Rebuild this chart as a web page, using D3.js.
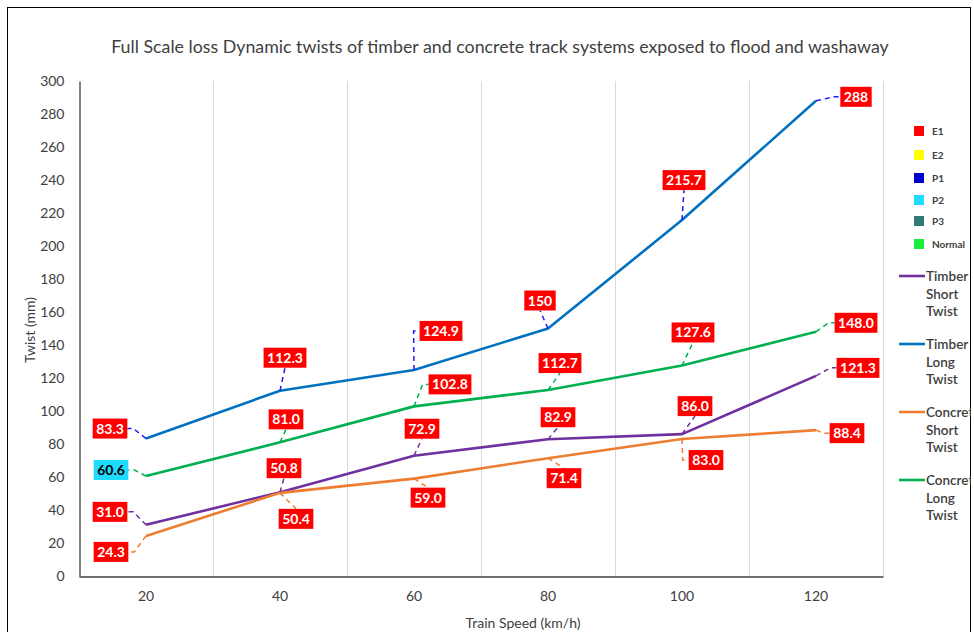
<!DOCTYPE html>
<html>
<head>
<meta charset="utf-8">
<script src="https://cdn.jsdelivr.net/npm/d3@7"></script>
<style>
  body { margin: 0; background: #fff; }
  svg text { font-family: Lato, "Open Sans", sans-serif; }
</style>
</head>
<body>
<script>
// categories (train speed, km/h)
var speeds = ["20", "40", "60", "80", "100", "120"];

// series values (twist, mm)
var timberShort   = [31.0, 50.8, 72.9, 82.9, 86.0, 121.3];
var timberLong    = [83.3, 112.3, 124.9, 150, 215.7, 288];
var concreteShort = [24.3, 50.4, 59.0, 71.4, 83.0, 88.4];
var concreteLong  = [60.6, 81.0, 102.8, 112.7, 127.6, 148.0];

// label text as printed in the picture
var timberShortLabels   = ["31.0", "50.8", "72.9", "82.9", "86.0", "121.3"];
var timberLongLabels    = ["83.3", "112.3", "124.9", "150", "215.7", "288"];
var concreteShortLabels = ["24.3", "50.4", "59.0", "71.4", "83.0", "88.4"];
var concreteLongLabels  = ["60.6", "81.0", "102.8", "112.7", "127.6", "148.0"];

// class of each data label (E1 red, P2 cyan)
var timberShortClass   = ["E1", "E1", "E1", "E1", "E1", "E1"];
var timberLongClass    = ["E1", "E1", "E1", "E1", "E1", "E1"];
var concreteShortClass = ["E1", "E1", "E1", "E1", "E1", "E1"];
var concreteLongClass  = ["P2", "E1", "E1", "E1", "E1", "E1"];

var yTicks = [0, 20, 40, 60, 80, 100, 120, 140, 160, 180, 200, 220, 240, 260, 280, 300];

var classNames = ["E1", "E2", "P1", "P2", "P3", "Normal"];
var classColors = ["#ff0000", "#ffff00", "#0000d0", "#1fdcff", "#2f7b73", "#19ef3b"];

// label offsets from the point, in pixels (layout only)
var offTimberShort   = [[-36, -13], [4, -24], [8, -27], [10, -22], [13, -28], [42, -8]];
var offTimberLong    = [[-36, -10], [5, -33], [27, -39], [-8, -28], [2, -40], [40, -4]];
var offConcreteShort = [[-35, 16], [16, 26], [14, 19], [16, 20], [24, 21], [31, 3]];
var offConcreteLong  = [[-35, -6], [6, -23], [36, -22], [12, -27], [11, -33], [40, -9]];

var series = [
  { name: ["Timber", "Short", "Twist"], values: timberShort, labels: timberShortLabels, cls: timberShortClass, off: offTimberShort, color: "#7030a0", lead: "#7030a0" },
  { name: ["Timber", "Long", "Twist"], values: timberLong, labels: timberLongLabels, cls: timberLongClass, off: offTimberLong, color: "#0070c0", lead: "#1a1aff" },
  { name: ["Concrete", "Short", "Twist"], values: concreteShort, labels: concreteShortLabels, cls: concreteShortClass, off: offConcreteShort, color: "#ed7d31", lead: "#ed7d31" },
  { name: ["Concrete", "Long", "Twist"], values: concreteLong, labels: concreteLongLabels, cls: concreteLongClass, off: offConcreteLong, color: "#00b050", lead: "#00b050" }
];

var width = 974, height = 632;
var margin = {top: 81, right: 91, bottom: 56, left: 79};
var textColor = "#404040";

var svg = d3.select("body").append("svg")
    .attr("width", width)
    .attr("height", height);

// clip everything to the chart frame
svg.append("clipPath").attr("id", "frame")
  .append("rect").attr("x", 7).attr("y", 7).attr("width", 964).attr("height", 640);

var root = svg.append("g").attr("clip-path", "url(#frame)");

root.append("rect")
    .attr("x", 7.5).attr("y", 7.5)
    .attr("width", 963).attr("height", 640)
    .attr("fill", "#fff")
    .attr("stroke", "#000")
    .attr("stroke-width", 1);

// scales
var xBand = d3.scaleBand()
    .domain(speeds)
    .range([margin.left, width - margin.right])
    .paddingInner(0).paddingOuter(0);

var x = function(d) { return xBand(d) + xBand.bandwidth() / 2; };

var y = d3.scaleLinear()
    .domain([0, 300])
    .range([height - margin.bottom, margin.top]);

// title
root.append("text")
    .attr("x", 500)
    .attr("y", 53)
    .attr("text-anchor", "middle")
    .attr("fill", textColor)
    .style("font-size", "17.8px")
    .text("Full Scale loss Dynamic twists of timber and concrete track systems exposed to flood and washaway");

// vertical gridlines between categories
root.append("g")
  .selectAll("line")
  .data(speeds.slice(1).concat(["end"]))
  .enter()
  .append("line")
    .attr("x1", function(d) { return d === "end" ? xBand.range()[1] + 0.5 : Math.round(xBand(d)) + 0.5; })
    .attr("x2", function(d) { return d === "end" ? xBand.range()[1] + 0.5 : Math.round(xBand(d)) + 0.5; })
    .attr("y1", y(300))
    .attr("y2", y(0))
    .attr("stroke", "#d9d9d9")
    .attr("stroke-width", 1);

// y axis
var yAxis = root.append("g")
    .attr("transform", "translate(" + (margin.left + 0.5) + ",0)")
    .call(d3.axisLeft(y).tickValues(yTicks).tickSize(0).tickPadding(15));
yAxis.select(".domain").attr("stroke", "#404040").attr("stroke-width", 1.3);
yAxis.selectAll("text").attr("fill", textColor).style("font-size", "14px")
    .style("font-family", "Lato, sans-serif");

// x axis
var xAxis = root.append("g")
    .attr("transform", "translate(0," + (y(0) + 0.5) + ")")
    .call(d3.axisBottom(xBand).tickSize(0).tickPadding(15));
xAxis.select(".domain").attr("stroke", "#404040").attr("stroke-width", 1.3);
xAxis.selectAll("text").attr("fill", textColor).style("font-size", "14px")
    .style("font-family", "Lato, sans-serif");

// axis titles
root.append("text")
    .attr("x", 523)
    .attr("y", 628)
    .attr("text-anchor", "middle")
    .attr("fill", textColor)
    .style("font-size", "14px")
    .text("Train Speed (km/h)");

root.append("text")
    .attr("transform", "translate(35," + 330 + ") rotate(-90)")
    .attr("text-anchor", "middle")
    .attr("fill", textColor)
    .style("font-size", "14px")
    .text("Twist (mm)");

// series lines
var line = d3.line()
    .x(function(d, i) { return x(speeds[i]); })
    .y(function(d) { return y(d); });

root.append("g")
  .selectAll("path")
  .data(series)
  .enter()
  .append("path")
    .attr("d", function(s) { return line(s.values); })
    .attr("fill", "none")
    .attr("stroke", function(s) { return s.color; })
    .attr("stroke-width", 2.6)
    .attr("stroke-linejoin", "round");

// data labels with leader lines
var labelLayer = root.append("g");
series.forEach(function(s) {
  s.values.forEach(function(v, i) {
    var px = x(speeds[i]), py = y(v);
    var cx = px + s.off[i][0], cy = py + s.off[i][1];
    var isP2 = s.cls[i] === "P2";

    var g = labelLayer.append("g");
    var lead = g.append("path");
    var box = g.append("rect");
    var t = g.append("text")
        .attr("x", cx)
        .attr("y", cy + 5)
        .attr("text-anchor", "middle")
        .attr("fill", isP2 ? "#000" : "#fff")
        .style("font-size", "14px")
        .style("font-weight", "bold")
        .text(s.labels[i]);

    var w = t.node().getComputedTextLength() + 7, h = 20;
    var x0 = cx - w / 2, y0 = cy - h / 2;
    box.attr("x", x0).attr("y", y0).attr("width", w).attr("height", h)
       .attr("fill", classColors[classNames.indexOf(s.cls[i])]);

    // leader: elbow into the side of the box, or straight into top/bottom
    var pts;
    if (px < x0) {
      pts = [[px, py], [x0 - 6, cy], [x0, cy]];
    } else if (px > x0 + w) {
      pts = [[px, py], [x0 + w + 6, cy], [x0 + w, cy]];
    } else {
      pts = [[px, py], [cx, py < cy ? y0 : y0 + h]];
    }
    lead.attr("d", d3.line()(pts))
        .attr("fill", "none")
        .attr("stroke", s.lead)
        .attr("stroke-width", 1.5)
        .attr("stroke-dasharray", "5,4");
  });
});

// legend: classes
var legendTop = root.append("g");
var clsLegendY = [131, 155, 178, 200, 221, 244];
classNames.forEach(function(c, i) {
  legendTop.append("rect")
      .attr("x", 914).attr("y", clsLegendY[i] - 5)
      .attr("width", 10).attr("height", 10)
      .attr("fill", classColors[i]);
  legendTop.append("text")
      .attr("x", 932).attr("y", clsLegendY[i] + 4)
      .attr("fill", textColor)
      .style("font-size", "10px")
      .style("font-weight", "bold")
      .text(c);
});

// legend: series
series.forEach(function(s, i) {
  var ly = 276 + i * 68;
  legendTop.append("line")
      .attr("x1", 899).attr("x2", 925)
      .attr("y1", ly).attr("y2", ly)
      .attr("stroke", s.color)
      .attr("stroke-width", 2.6);
  s.name.forEach(function(n, k) {
    legendTop.append("text")
        .attr("x", 926).attr("y", ly + 5 + k * 17.5)
        .attr("fill", textColor)
        .style("font-size", "13.5px")
        .style("font-weight", "600")
        .text(n);
  });
});
</script>
</body>
</html>
